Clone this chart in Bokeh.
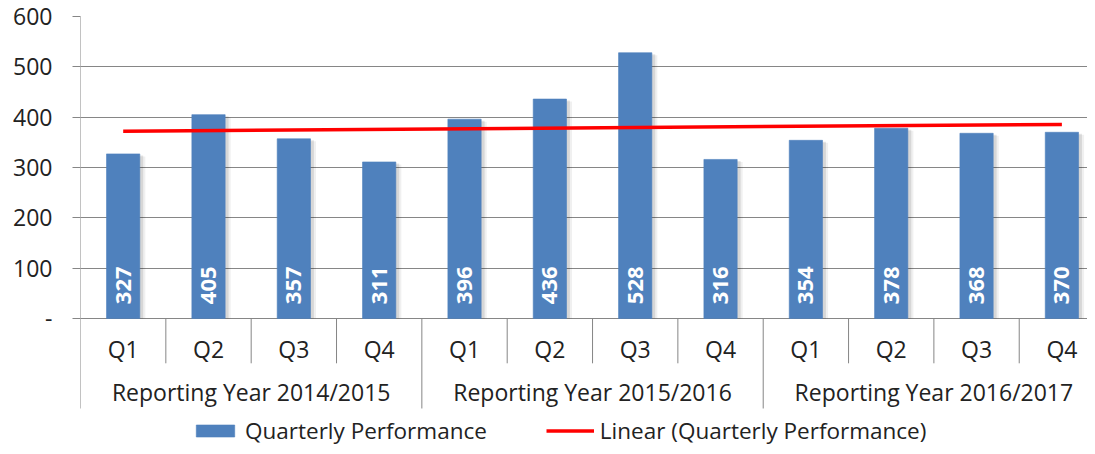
import numpy as np
from bokeh.plotting import figure
from bokeh.models import Range1d, FixedTicker, Legend, LegendItem, ColumnDataSource
from bokeh.core.properties import value
from bokeh.embed import file_html
from bokeh.resources import INLINE

years = ["Reporting Year 2014/2015", "Reporting Year 2015/2016", "Reporting Year 2016/2017"]
quarters = ["Q1", "Q2", "Q3", "Q4"]
performance = [327, 405, 357, 311, 396, 436, 528, 316, 354, 378, 368, 370]
y_ticks = [0, 100, 200, 300, 400, 500, 600]
y_tick_labels = {0: "-", 100: "100", 200: "200", 300: "300", 400: "400", 500: "500", 600: "600"}

FONT = "Open Sans"
BLUE = "#4F81BD"
GREY = "#868686"
TXT = "#222222"

n = len(performance)
nq = len(quarters)
xc = [i + 0.5 for i in range(n)]
qlabels = [quarters[i % nq] for i in range(n)]

Y_BOTTOM = -254.3   # frame bottom (below the legend row)
AX_BOTTOM = -178.8  # end of axis / year separators

src = ColumnDataSource(dict(x=xc, top=performance, lab=[str(v) for v in performance], q=qlabels))

p = figure(width=1087, height=446, output_backend="svg", toolbar_location=None,
           x_range=Range1d(0, 11.80), y_range=Range1d(Y_BOTTOM, 600),
           x_axis_type=None, min_border_left=80, min_border_top=16,
           min_border_right=0, min_border_bottom=0)
p.outline_line_color = None
p.background_fill_color = "white"
p.border_fill_color = "white"
p.xgrid.visible = False

# y axis
ya = p.yaxis[0]
ya.ticker = FixedTicker(ticks=y_ticks)
ya.major_label_overrides = y_tick_labels
ya.axis_line_color = None
ya.major_tick_line_color = GREY
ya.major_tick_out = 8
ya.major_tick_in = 0
ya.minor_tick_line_color = None
ya.major_label_standoff = 20
ya.major_label_text_font = FONT
ya.major_label_text_font_size = "23px"
ya.major_label_text_color = TXT
p.ygrid.ticker = FixedTicker(ticks=y_ticks)
p.ygrid.grid_line_color = GREY
p.ygrid.grid_line_width = 1

# axis line (stops at the category rows)
p.segment(x0=0, y0=AX_BOTTOM, x1=0, y1=600, line_color=GREY, line_width=1)

# shadows
p.vbar(x=[x + 0.06 for x in xc], top=[v - 5 for v in performance], width=0.4, bottom=0,
       fill_color="black", fill_alpha=0.06, line_color=None)
p.vbar(x=[x + 0.035 for x in xc], top=[v - 3 for v in performance], width=0.4, bottom=0,
       fill_color="black", fill_alpha=0.10, line_color=None)
bars = p.vbar(x="x", top="top", width=0.39, bottom=0, source=src,
              fill_color=BLUE, line_color=BLUE, line_alpha=0.6)

# trend line (linear fit of the series)
idx = np.arange(1, n + 1)
slope, intercept = np.polyfit(idx, performance, 1)
tx = [xc[0], xc[-1]]
ty = [slope * 1 + intercept, slope * n + intercept]
trend = p.line(tx, ty, line_color="#FF0000", line_width=3.5)

# value labels
p.text(x="x", y=66, text="lab", source=src, angle=np.pi / 2, text_align="center",
       text_baseline="middle", text_color="white", text_font=value(FONT),
       text_font_style="bold", text_font_size="22px")

# category separators
q_sep = [i for i in range(1, n) if i % nq != 0]
y_sep = [i for i in range(nq, n, nq)]
p.segment(x0=q_sep, y0=0, x1=q_sep, y1=-89, line_color=GREY, line_width=1)
p.segment(x0=y_sep, y0=0, x1=y_sep, y1=AX_BOTTOM, line_color=GREY, line_width=1)

# quarter and year labels
p.text(x="x", y=-60, text="q", source=src, text_align="center", text_baseline="middle",
       text_color=TXT, text_font=value(FONT), text_font_size="23px")
p.text(x=[k * nq + nq / 2 for k in range(len(years))], y=-147, text=years,
       text_align="center", text_baseline="middle", text_color=TXT,
       text_font=value(FONT), text_font_size="23px")

legend = Legend(items=[LegendItem(label="Quarterly Performance", renderers=[bars]),
                       LegendItem(label="Linear (Quarterly Performance)", renderers=[trend])],
                orientation="horizontal", location=(111, 0),
                glyph_width=48, glyph_height=15, spacing=59, label_standoff=6,
                label_text_font=FONT, label_text_font_size="22.5px", label_text_color=TXT,
                border_line_color=None, background_fill_alpha=0, padding=0, margin=0)
p.add_layout(legend, "center")

open("out.html", "w").write(file_html(p, INLINE))
